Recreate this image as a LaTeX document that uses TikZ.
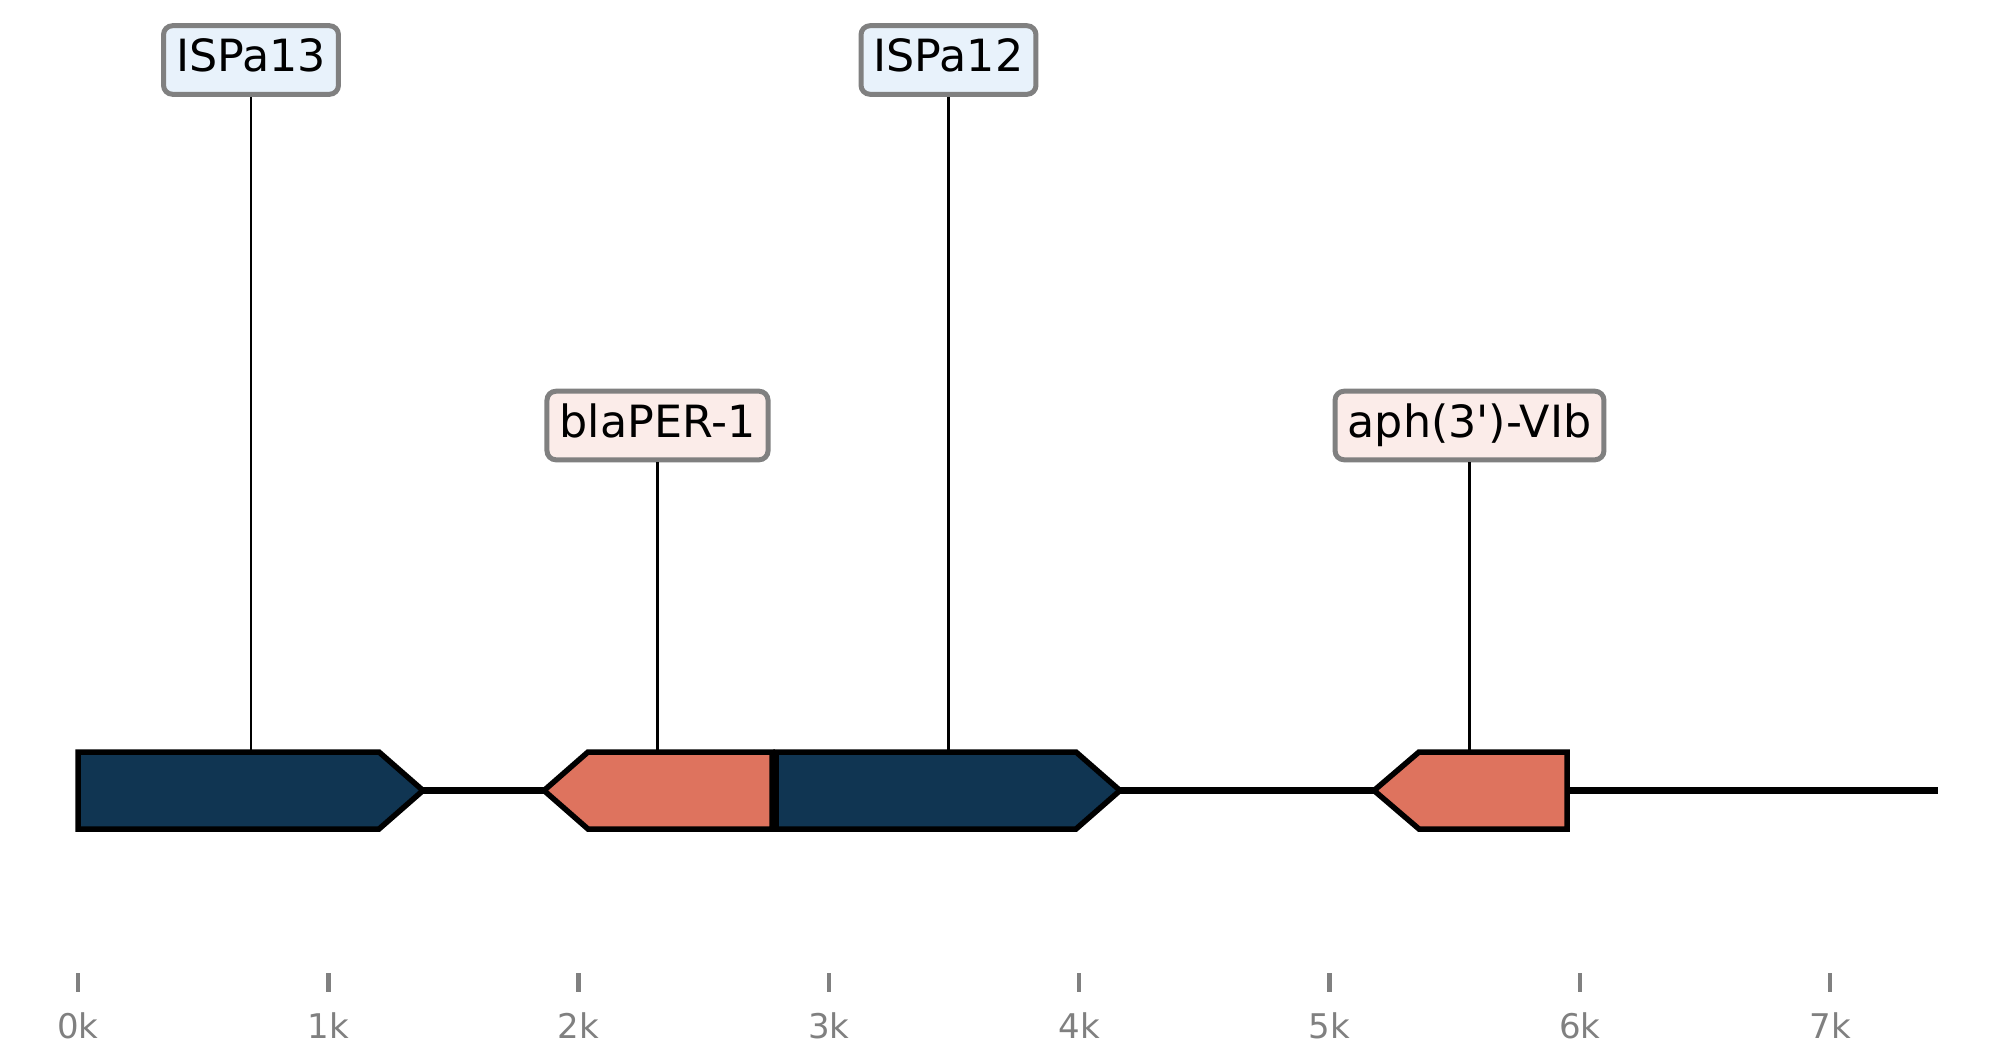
\documentclass[tikz,border=0pt]{standalone}
\usepackage{fontspec}
\setmainfont{DejaVu Sans}[Ligatures=TeXOff]
\definecolor{geneblue}{HTML}{103552}
\definecolor{genered}{HTML}{DE735E}
\definecolor{labblue}{HTML}{E8F2FB}
\definecolor{labred}{HTML}{FBECE9}
\definecolor{edgegray}{HTML}{808080}
\tikzset{
  genelabel/.style={draw=edgegray, line width=5pt, rounded corners=9pt,
    inner xsep=12.6pt, inner ysep=12.1pt, text height=33.7pt, text depth=10.7pt,
    font=\fontsize{44.4}{53}\selectfont, text=black},
  islabel/.style={genelabel, fill=labblue},
  arlabel/.style={genelabel, fill=labred},
  leader/.style={draw=black, line width=2.4pt},
  backbone/.style={draw=black, line width=7.5pt},
  geneshape/.style={draw=black, line width=5.5pt, line join=miter},
  tickmark/.style={draw=edgegray, line width=4.5pt},
  ticklabel/.style={text=edgegray, font=\fontsize{34}{40}\selectfont, anchor=base, inner sep=0pt}
}
\begin{document}
\begin{tikzpicture}[x=1pt,y=-1pt]
\useasboundingbox (0,0) rectangle (1998,1050);
% backbone
\coordinate (bbL) at (78,790.5);
\coordinate (bbR) at (1938,790.5);
\draw[backbone] (bbL) -- (bbR);
% genes
\fill[geneblue] (78,752) -- (379,752) -- (423,790.5) -- (379,829) -- (78,829) -- cycle;
\draw[geneshape] (78,752) -- (379,752) -- (423,790.5) -- (379,829) -- (78,829) -- cycle;
\fill[genered] (544,790.5) -- (588,752) -- (772,752) -- (772,829) -- (588,829) -- cycle;
\draw[geneshape] (544,790.5) -- (588,752) -- (772,752) -- (772,829) -- (588,829) -- cycle;
\fill[geneblue] (776,752) -- (1076,752) -- (1120,790.5) -- (1076,829) -- (776,829) -- cycle;
\draw[geneshape] (776,752) -- (1076,752) -- (1120,790.5) -- (1076,829) -- (776,829) -- cycle;
\fill[genered] (1374,790.5) -- (1419,752) -- (1567,752) -- (1567,829) -- (1419,829) -- cycle;
\draw[geneshape] (1374,790.5) -- (1419,752) -- (1567,752) -- (1567,829) -- (1419,829) -- cycle;
% gene tops
\coordinate (g1top) at (251,752);
\coordinate (g2top) at (657.5,752);
\coordinate (g3top) at (948.5,752);
\coordinate (g4top) at (1469.5,752);
% labels
\node[islabel] (l1) at (251,60) {ISPa13};
\node[arlabel] (l2) at (657.5,425.5) {blaPER-1};
\node[islabel] (l3) at (948.5,60) {ISPa12};
\node[arlabel] (l4) at (1469.5,425.5) {aph(3')-VIb};
\draw[leader] (l1.south) -- (g1top);
\draw[leader] (l2.south) -- (g2top);
\draw[leader] (l3.south) -- (g3top);
\draw[leader] (l4.south) -- (g4top);
% axis ticks
\foreach \k in {0,...,7}{
  \coordinate (t\k) at ({78+250.3*\k},973);
  \coordinate (tb\k) at ({78+250.3*\k},992);
  \draw[tickmark] (t\k) -- (tb\k);
  \node[ticklabel] (tl\k) at ({78+250.3*\k},1038) {\k k};
}
\end{tikzpicture}
\end{document}
